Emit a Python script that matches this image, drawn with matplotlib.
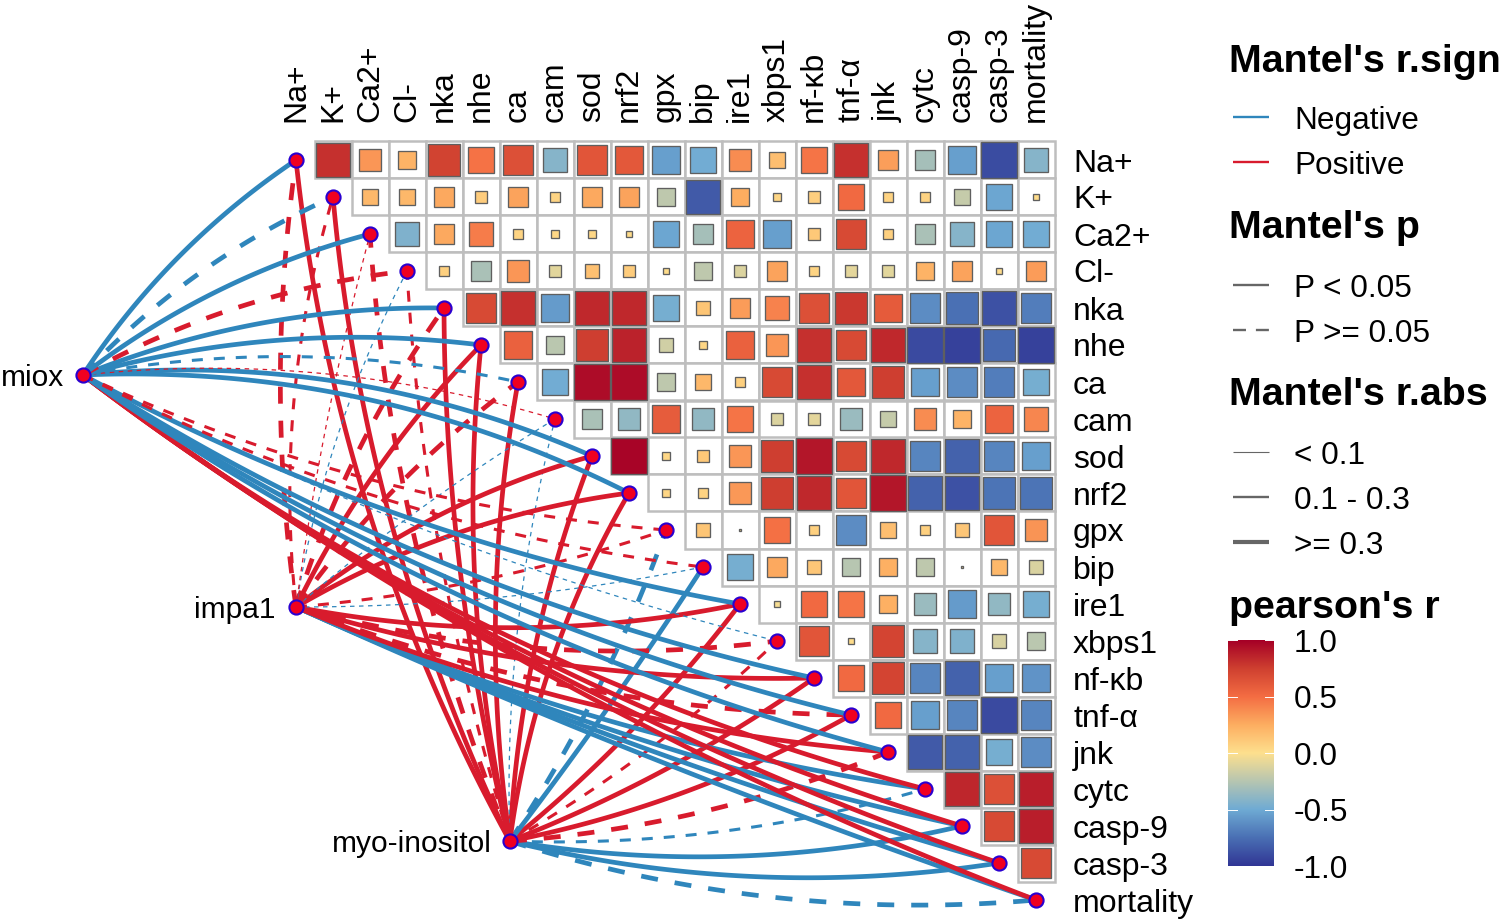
import numpy as np
import matplotlib
matplotlib.use("Agg")
import matplotlib.pyplot as plt
from matplotlib.colors import LinearSegmentedColormap
from matplotlib.patches import Rectangle

plt.rcParams['font.family'] = ['Liberation Sans', 'DejaVu Sans']

labels = ["Na+", "K+", "Ca2+", "Cl-", "nka", "nhe", "ca", "cam", "sod", "nrf2", "gpx",
          "bip", "ire1", "xbps1", "nf-κb", "tnf-α", "jnk", "cytc", "casp-9", "casp-3", "mortality"]

# Pearson r, upper triangle, one list per row (starts right of the diagonal)
r_rows = [
    [.81, .34, .22, .73, .48, .66, -.42, .63, .61, -.55, -.49, .38, .17, .47, .81, .31, -.31, -.55, -.90, -.42],
    [.20, .20, .27, .10, .29, .06, .27, .29, -.22, -.84, .25, .05, .09, .52, .07, .07, -.20, -.52, .02],
    [-.44, .27, .44, .06, .04, .04, .03, -.52, -.31, .55, -.55, .12, .69, .08, -.29, -.42, -.52, -.49],
    [.08, -.29, .34, -.10, .16, .10, .02, -.22, -.12, .29, .06, -.09, -.10, .22, .29, .02, .32],
    [.69, .81, -.57, .84, .84, -.47, .14, .32, .42, .66, .78, .60, -.63, -.75, -.88, -.69],
    [.57, -.24, .75, .86, -.16, .05, .57, .34, .81, .69, .84, -.91, -.95, -.78, -.95],
    [-.49, .95, .95, -.22, .20, .08, .69, .81, .61, .75, -.55, -.63, -.69, -.47],
    [-.29, -.38, .59, -.38, .47, -.12, -.09, -.35, -.20, .38, .22, .55, .40],
    [.98, .04, .12, .34, .75, .91, .69, .84, -.66, -.81, -.66, -.55],
    [.05, .07, .33, .75, .84, .63, .91, -.81, -.88, -.73, -.73],
    [.14, .00, .49, .08, -.63, .17, .08, .13, .63, .35],
    [-.47, .27, .13, -.25, .24, -.22, .00, .20, -.13],
    [-.03, .52, .47, .24, -.35, -.57, -.38, -.47],
    [.63, .02, .72, -.42, -.44, -.14, -.24],
    [.52, .72, -.66, -.81, -.55, -.60],
    [.52, -.55, -.66, -.91, -.66],
    [-.84, -.81, -.47, -.63],
    [.85, .66, .88],
    [.69, .88],
    [.69],
]

# Mantel links per source, in label order: sign, dashed (p >= 0.05), size class
miox_sign = [-1, -1, -1, 1, -1, -1, -1, 1, -1, -1, 1, 1, -1, -1, -1, -1, -1, 1, 1, 1, 1]
miox_dash = [0, 1, 0, 1, 0, 0, 1, 1, 0, 0, 1, 1, 0, 1, 0, 0, 0, 0, 0, 0, 0]
miox_size = [2, 2, 2, 2, 2, 2, 1, 0, 2, 2, 1, 1, 2, 0, 2, 2, 2, 2, 2, 2, 2]
impa1_sign = [1, 1, 1, -1, 1, 1, 1, -1, 1, 1, 1, -1, 1, 1, 1, 1, 1, -1, -1, -1, -1]
impa1_dash = [1, 1, 1, 1, 1, 0, 1, 1, 0, 0, 1, 1, 0, 1, 0, 1, 0, 0, 0, 0, 0]
impa1_size = [2, 1, 0, 0, 2, 2, 2, 0, 2, 2, 1, 0, 2, 2, 2, 2, 2, 2, 2, 2, 2]
myo_sign = [1, 1, 1, 1, 1, 1, 1, -1, 1, 1, -1, -1, 1, 1, 1, 1, 1, -1, -1, -1, -1]
myo_dash = [0, 0, 1, 1, 0, 0, 0, 1, 0, 0, 1, 0, 0, 1, 0, 0, 1, 1, 0, 0, 1]
myo_size = [2, 2, 2, 1, 2, 2, 2, 0, 2, 2, 2, 2, 2, 1, 2, 2, 2, 1, 2, 2, 2]

# how far each curve bows (fraction of its length, + is left of travel)
miox_bend = [.05, .05, .05, .05, .05, .05, .05, .05, .065, .065,
             -.045, -.045, -.04, -.03, -.045, -.045, -.045, -.05, -.045, -.04, -.035]
impa1_bend = [.035, .05, .015, .04, .04, .04, .04, .02, .05, .05,
              -.03, -.025, -.05, -.05, -.04, -.045, -.04, -.034, -.026, -.018, -.012]
myo_bend = [.05, .045, .04, .03, .03, .04, .04, .035, .04, .05,
            -.03, -.01, -.03, -.03, -.03, -.04, -.04, -.04, -.05, -.05, -.05]

sources = {
    "miox": (-5.76, 5.81, miox_sign, miox_dash, miox_size, miox_bend, 64),
    "impa1": (0.0, 12.08, impa1_sign, impa1_dash, impa1_size, impa1_bend, 275),
    "myo-inositol": (5.78, 18.41, myo_sign, myo_dash, myo_size, myo_bend, 492),
}

BLUE = "#2F86BC"
RED = "#D81B2D"
NODE = "#F00020"
NODE_EDGE = "#2A00D0"
widths = [0.9, 2.2, 3.4]
FS_AXIS = 23
FS_LEG = 22.7
FS_SRC = 21.5

cmap = LinearSegmentedColormap.from_list("rdylbu", [
    (0.0, "#313695"), (0.125, "#4A70B4"), (0.25, "#6FABD4"), (0.5, "#FEE08E"),
    (0.625, "#FDAE61"), (0.75, "#F46D43"), (0.875, "#CF4030"), (1.0, "#A50026")])

fig = plt.figure(figsize=(15, 9.22), dpi=100)
ax = fig.add_axes([0, 0, 1, 1])
ax.set_xlim(-296 / 37, (1500 - 296) / 37)
ax.set_ylim((922 - 160) / 37, -160 / 37)
ax.axis("off")

n = len(labels)

# links, last target first so the order of overlaps follows the figure
for name in ["myo-inositol", "impa1", "miox"]:
    sx, sy, sign, dash, size, bend, _ = sources[name]
    for j in range(n - 1, -1, -1):
        p0 = np.array([sx, sy])
        p2 = np.array([j, j], dtype=float)
        d = p2 - p0
        # y axis points down, so the left normal is (d_y, -d_x)
        ctrl = (p0 + p2) / 2 + 2 * bend[j] * np.array([d[1], -d[0]])
        t = np.linspace(0, 1, 80)[:, None]
        curve = (1 - t) ** 2 * p0 + 2 * t * (1 - t) * ctrl + t ** 2 * p2
        ls = (0, (3.6, 3.6)) if dash[j] else "-"
        ax.plot(curve[:, 0], curve[:, 1], color=RED if sign[j] > 0 else BLUE,
                lw=widths[size[j]], ls=ls, dash_capstyle="butt", solid_capstyle="butt", zorder=2)

# tile grid
for i, row in enumerate(r_rows):
    for k in range(len(row)):
        j = i + 1 + k
        ax.add_patch(Rectangle((j - .5, i - .5), 1, 1, fc="white", ec="#BEBEBE", lw=1.8, zorder=3))

# squares, side follows sqrt(|r|)
for i, row in enumerate(r_rows):
    for k, r in enumerate(row):
        j = i + 1 + k
        side = np.sqrt(abs(r))
        side = max(side, 0.07)
        ax.add_patch(Rectangle((j - side / 2, i - side / 2), side, side,
                               fc=cmap((r + 1) / 2), ec="#5F5F5F", lw=0.95, zorder=4))

# nodes
ax.plot(range(n), range(n), ls="", marker="o", ms=10.2, mfc=NODE, mec=NODE_EDGE, mew=1.5, zorder=5)
for name, src in sources.items():
    ax.plot(src[0], src[1], marker="o", ms=10.2, mfc=NODE, mec=NODE_EDGE, mew=1.5, zorder=5)

# row and column labels
for i, lab in enumerate(labels):
    ax.text(21.0, i, lab, fontsize=FS_AXIS, ha="left", va="center_baseline", zorder=6)
    ax.text(i, -1.04, lab, fontsize=FS_AXIS, rotation=90, ha="center", va="bottom", zorder=6)

for name, src in sources.items():
    ax.annotate(name, (src[6] / 1500, 1 - (src[1] * 37 + 160) / 922), xycoords="figure fraction",
                fontsize=FS_SRC, ha="right", va="center_baseline", zorder=6)

# legend drawn in pixel coordinates
lg = fig.add_axes([0, 0, 1, 1], facecolor="none")
lg.set_xlim(0, 1500)
lg.set_ylim(922, 0)
lg.axis("off")

titles = [("Mantel's r.sign", 58), ("Mantel's p", 224), ("Mantel's r.abs", 391), ("pearson's r", 604)]
for txt, y in titles:
    lg.text(1229, y, txt, fontsize=28.4, fontweight="bold", ha="left", va="center_baseline")

entries = [
    ("Negative", 117, BLUE, 1.7, "-"),
    ("Positive", 162, RED, 1.7, "-"),
    ("P < 0.05", 285, "#666666", 1.7, "-"),
    ("P >= 0.05", 330, "#666666", 1.7, (0, (5.5, 4.2))),
    ("< 0.1", 452, "#666666", 0.8, "-"),
    ("0.1 - 0.3", 497, "#666666", 1.7, "-"),
    (">= 0.3", 542, "#666666", 3.0, "-"),
]
for txt, y, col, lw, ls in entries:
    lg.plot([1233, 1269], [y, y], color=col, lw=lw, ls=ls, dash_capstyle="butt", solid_capstyle="butt")
    lg.text(1294, y, txt, fontsize=FS_LEG, ha="left", va="center_baseline")

# colour bar
cb_ticks = [1.0, 0.5, 0.0, -0.5, -1.0]
cb = fig.add_axes([1228 / 1500, 1 - 866 / 922, 46 / 1500, 226 / 922])
cb.imshow(np.linspace(1, -1, 256)[:, None], cmap=cmap, vmin=-1, vmax=1, aspect="auto", extent=[0, 1, -1, 1])
cb.axis("off")
for v in cb_ticks:
    cb.plot([0, 0.2], [v, v], color="white", lw=0.7, clip_on=True)
    cb.plot([0.8, 1], [v, v], color="white", lw=0.7, clip_on=True)
    lg.text(1294, 753 - v * 113, f"{v:.1f}", fontsize=FS_LEG, ha="left", va="center_baseline")
cb.set_xlim(0, 1)
cb.set_ylim(-1, 1)

fig.savefig("out.png", dpi=100, facecolor="white")
